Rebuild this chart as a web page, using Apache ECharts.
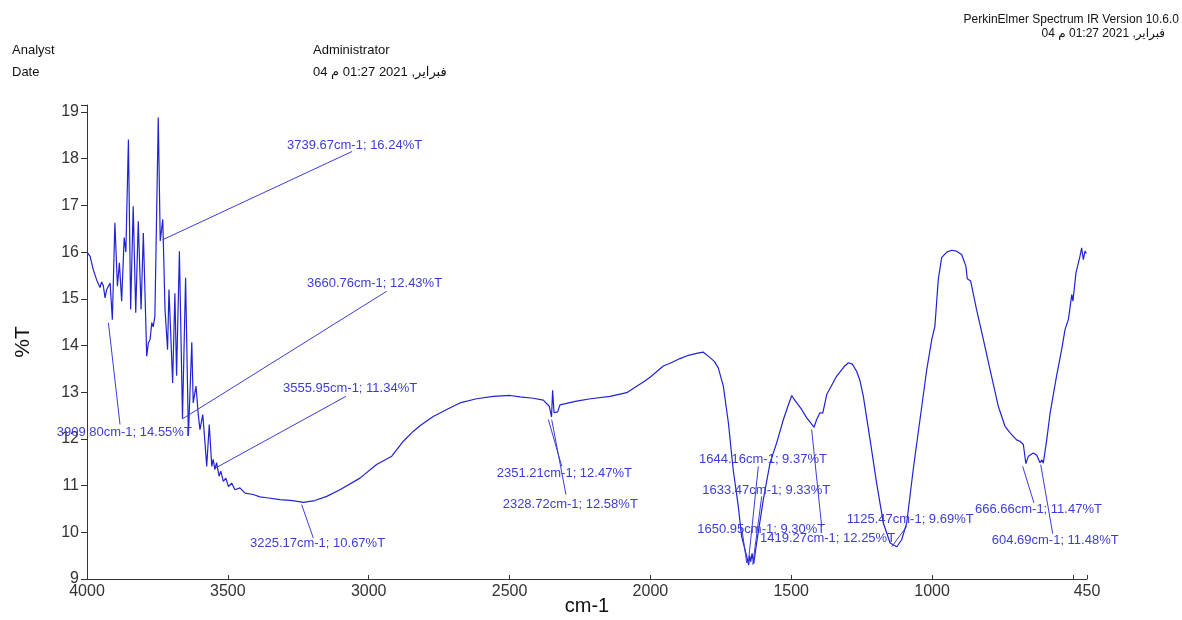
<!DOCTYPE html>
<html>
<head>
<meta charset="utf-8">
<title>IR spectrum</title>
<script src="https://cdn.jsdelivr.net/npm/echarts@6/dist/echarts.min.js"></script>
<style>
  html, body { margin: 0; padding: 0; background: #fff; }
  #chart { width: 1182px; height: 620px; }
</style>
</head>
<body>
<div id="chart"></div>
<script>
// spectrum (cm-1 / %T)
const wavenumbers = [
  4000, 3989, 3978, 3966, 3954, 3948, 3942, 3936, 3930, 3924, 3918, 3910, 3901, 3892, 3885, 3877,
  3868, 3862, 3853, 3845, 3836, 3827, 3818, 3808, 3800, 3788, 3782, 3776, 3770, 3765, 3759, 3747,
  3740, 3731, 3723, 3714, 3709, 3696, 3688, 3682, 3672, 3661, 3650, 3640, 3628, 3623, 3613, 3605,
  3599, 3589, 3581, 3575, 3566, 3557, 3552, 3546, 3540, 3531, 3525, 3516, 3507, 3498, 3486, 3475,
  3457, 3439, 3410, 3386, 3362, 3315, 3270, 3232, 3191, 3149, 3102, 3031, 2972, 2918, 2877, 2842,
  2818, 2771, 2723, 2676, 2617, 2558, 2498, 2463, 2416, 2380, 2359, 2351, 2347, 2342, 2329, 2321,
  2262, 2212, 2143, 2084, 2061, 2025, 2001, 1954, 1930, 1895, 1865, 1836, 1813, 1788, 1773, 1759,
  1741, 1723, 1706, 1688, 1676, 1664, 1651, 1648, 1644, 1639, 1633, 1623, 1599, 1575, 1552, 1528,
  1510, 1498, 1490, 1483, 1463, 1445, 1419, 1410, 1398, 1388, 1374, 1339, 1312, 1297, 1283, 1268,
  1256, 1244, 1220, 1197, 1173, 1149, 1125, 1108, 1090, 1067, 1043, 1019, 1001, 990, 978, 966,
  948, 930, 913, 895, 880, 875, 863, 842, 818, 794, 765, 741, 723, 700, 688, 676,
  667, 658, 641, 628, 617, 610, 605, 593, 581, 558, 540, 528, 516, 504, 500, 489,
  482, 475, 469, 463, 457, 452
];
const transmittance = [
  16.00, 15.91, 15.63, 15.41, 15.24, 15.36, 15.28, 15.02, 15.20, 15.18, 15.34, 14.55, 16.63, 15.27, 15.77, 14.95,
  16.31, 16.00, 18.41, 14.77, 16.98, 14.70, 16.66, 14.77, 16.41, 13.77, 14.06, 14.13, 14.49, 14.40, 14.63, 18.88,
  16.24, 16.70, 14.77, 13.91, 15.20, 13.20, 15.12, 13.35, 16.02, 12.43, 15.45, 12.06, 14.07, 12.77, 13.13, 12.52,
  12.20, 12.52, 11.91, 11.41, 12.31, 11.41, 11.56, 11.34, 11.49, 11.20, 11.31, 11.09, 11.16, 10.98, 11.05, 10.91,
  10.95, 10.84, 10.81, 10.76, 10.74, 10.70, 10.68, 10.64, 10.68, 10.77, 10.91, 11.16, 11.45, 11.63, 11.95, 12.16,
  12.28, 12.48, 12.63, 12.77, 12.86, 12.91, 12.93, 12.90, 12.87, 12.83, 12.70, 12.47, 13.04, 12.56, 12.58, 12.73,
  12.81, 12.86, 12.91, 12.99, 13.08, 13.22, 13.32, 13.56, 13.62, 13.72, 13.79, 13.83, 13.86, 13.74, 13.66, 13.52,
  13.13, 12.34, 11.34, 10.56, 9.91, 9.63, 9.30, 9.50, 9.37, 9.55, 9.33, 9.77, 10.70, 11.49, 11.91, 12.41,
  12.73, 12.93, 12.85, 12.88, 12.63, 12.45, 12.25, 12.41, 12.56, 12.55, 12.95, 13.34, 13.55, 13.63, 13.60, 13.45,
  13.25, 12.91, 11.98, 11.06, 10.20, 9.77, 9.69, 9.84, 10.20, 11.34, 12.41, 13.48, 14.13, 14.41, 15.41, 15.88,
  16.00, 16.04, 16.02, 15.95, 15.70, 15.43, 15.38, 14.77, 14.13, 13.48, 12.70, 12.27, 12.13, 11.98, 11.95, 11.88,
  11.47, 11.63, 11.70, 11.65, 11.49, 11.55, 11.48, 11.98, 12.55, 13.35, 13.91, 14.34, 14.56, 15.09, 14.95, 15.56,
  15.60, 15.91, 16.09, 15.84, 16.02, 15.97
];

// labelled peaks
const peakWn = [3739.67, 3660.76, 3555.95, 3909.80, 3225.17, 2351.21, 2328.72, 1644.16, 1633.47, 1650.95, 1419.27, 1125.47, 666.66, 604.69];
const peakT = [16.24, 12.43, 11.34, 14.55, 10.67, 12.47, 12.58, 9.37, 9.33, 9.30, 12.25, 9.69, 11.47, 11.48];

const xLabelTicks = [4000, 3500, 3000, 2500, 2000, 1500, 1000, 450];
const xTickMarks = [4000, 3500, 3000, 2500, 2000, 1500, 1000, 500, 450];

// label placement in px relative to the peak point:
// [text dx, text dy, line start dx, line start dy, line end dx, line end dy]
const labelOffsets = [
  [126.7, -95.4, 2, -1, 191.7, -89.4],
  [124.4, -135.2, 0, 0, 204, -127.5],
  [70.9, -81.1, 4, -2, 133.9, -73.4],
  [-55.7, 113, -4, 3, 7.6, 104.7],
  [-55.3, 42.9, -3.6, 3.6, 8, 36.9],
  [-54.7, 56.9, -3.1, 2.6, 10.3, 49.3],
  [-55.1, 92.8, -6.1, 7.8, 8.2, 82.8],
  [-51.6, -102.7, -2.3, 1, 7.7, -95.3],
  [-51.3, -73.2, -0.9, 1.1, 8.1, -67.2],
  [-51.4, -35.3, -2, -2, -7, -37.3],
  [-54, 110.7, -2.3, 2.4, 7.7, 99.1],
  [-50, -27.8, -5, 0, 10, -20.4],
  [-51, 46, -3.3, 2.7, 8, 39.3],
  [-51.7, 77.5, -2.7, 1.5, 9.3, 70.5]
];

const FONT = "Arial, 'Liberation Sans', 'DejaVu Sans', sans-serif";
const LINE_COLOR = "#2222d4";
const NOTE_COLOR = "#3c3cdc";
const DATE_AR = "04 فبراير, 2021 01:27 م";

const spectrum = wavenumbers.map((w, i) => [w, transmittance[i]]);
const peaks = peakWn.map((w, i) => [w, peakT[i], i]);

function renderPeak(params, api) {
  const p = api.coord([api.value(0), api.value(1)]);
  const i = api.value(2);
  const o = labelOffsets[i];
  const text = `${peakWn[i].toFixed(2)}cm-1; ${peakT[i].toFixed(2)}%T`;
  return {
    type: "group",
    children: [
      {
        type: "line",
        shape: { x1: p[0] + o[2], y1: p[1] + o[3], x2: p[0] + o[4], y2: p[1] + o[5] },
        style: { stroke: NOTE_COLOR, lineWidth: 1 }
      },
      {
        type: "text",
        x: p[0] + o[0],
        y: p[1] + o[1],
        style: {
          text: text,
          fill: NOTE_COLOR,
          font: "13px " + FONT,
          textAlign: "left",
          textVerticalAlign: "middle"
        }
      }
    ]
  };
}

const chart = echarts.init(document.getElementById("chart"), null, { renderer: "canvas" });

chart.setOption({
  animation: false,
  backgroundColor: "#ffffff",
  grid: { left: 87, right: 95, top: 105, bottom: 41, containLabel: false, outerBoundsMode: "none" },
  xAxis: {
    type: "value",
    inverse: true,
    min: 450,
    max: 4000,
    name: "cm-1",
    nameLocation: "middle",
    nameGap: 17,
    nameMoveOverlap: false,
    nameTextStyle: { fontSize: 20, color: "#111", fontFamily: FONT },
    axisLine: { onZero: false, lineStyle: { color: "#333", width: 1 } },
    axisTick: { inside: true, length: 4, customValues: xTickMarks, lineStyle: { color: "#333" } },
    axisLabel: {
      customValues: xLabelTicks,
      fontSize: 16,
      color: "#333",
      margin: 5,
      fontFamily: FONT,
      formatter: v => String(v)
    },
    splitLine: { show: false }
  },
  yAxis: {
    type: "value",
    min: 9,
    max: 19.15,
    interval: 1,
    name: "%T",
    nameLocation: "middle",
    nameRotate: 90,
    nameGap: 53,
    nameMoveOverlap: false,
    nameTextStyle: { fontSize: 21, color: "#111", fontFamily: FONT },
    axisLine: { show: true, lineStyle: { color: "#333", width: 1 } },
    axisTick: { show: true, length: 6, lineStyle: { color: "#333" } },
    axisLabel: {
      fontSize: 16,
      color: "#333",
      margin: 8,
      fontFamily: FONT,
      formatter: v => (Math.abs(v - Math.round(v)) < 1e-6 ? String(Math.round(v)) : "")
    },
    splitLine: { show: false }
  },
  graphic: [
    { type: "text", left: 12, top: 44, style: { text: "Analyst", font: "13px " + FONT, fill: "#111" } },
    { type: "text", left: 12, top: 66, style: { text: "Date", font: "13px " + FONT, fill: "#111" } },
    { type: "text", left: 313, top: 44, style: { text: "Administrator", font: "13px " + FONT, fill: "#111" } },
    { type: "text", left: 313, top: 66, style: { text: DATE_AR, font: "13px " + FONT, fill: "#111" } },
    { type: "text", right: 3, top: 14, style: { text: "PerkinElmer Spectrum IR Version 10.6.0", font: "12px " + FONT, fill: "#111" } },
    { type: "text", right: 17, top: 28, style: { text: DATE_AR, font: "12px " + FONT, fill: "#111" } }
  ],
  series: [
    {
      type: "line",
      data: spectrum,
      showSymbol: false,
      smooth: false,
      lineStyle: { color: LINE_COLOR, width: 1.2 },
      z: 3
    },
    {
      type: "custom",
      data: peaks,
      renderItem: renderPeak,
      z: 4,
      silent: true
    }
  ]
});
</script>
</body>
</html>
